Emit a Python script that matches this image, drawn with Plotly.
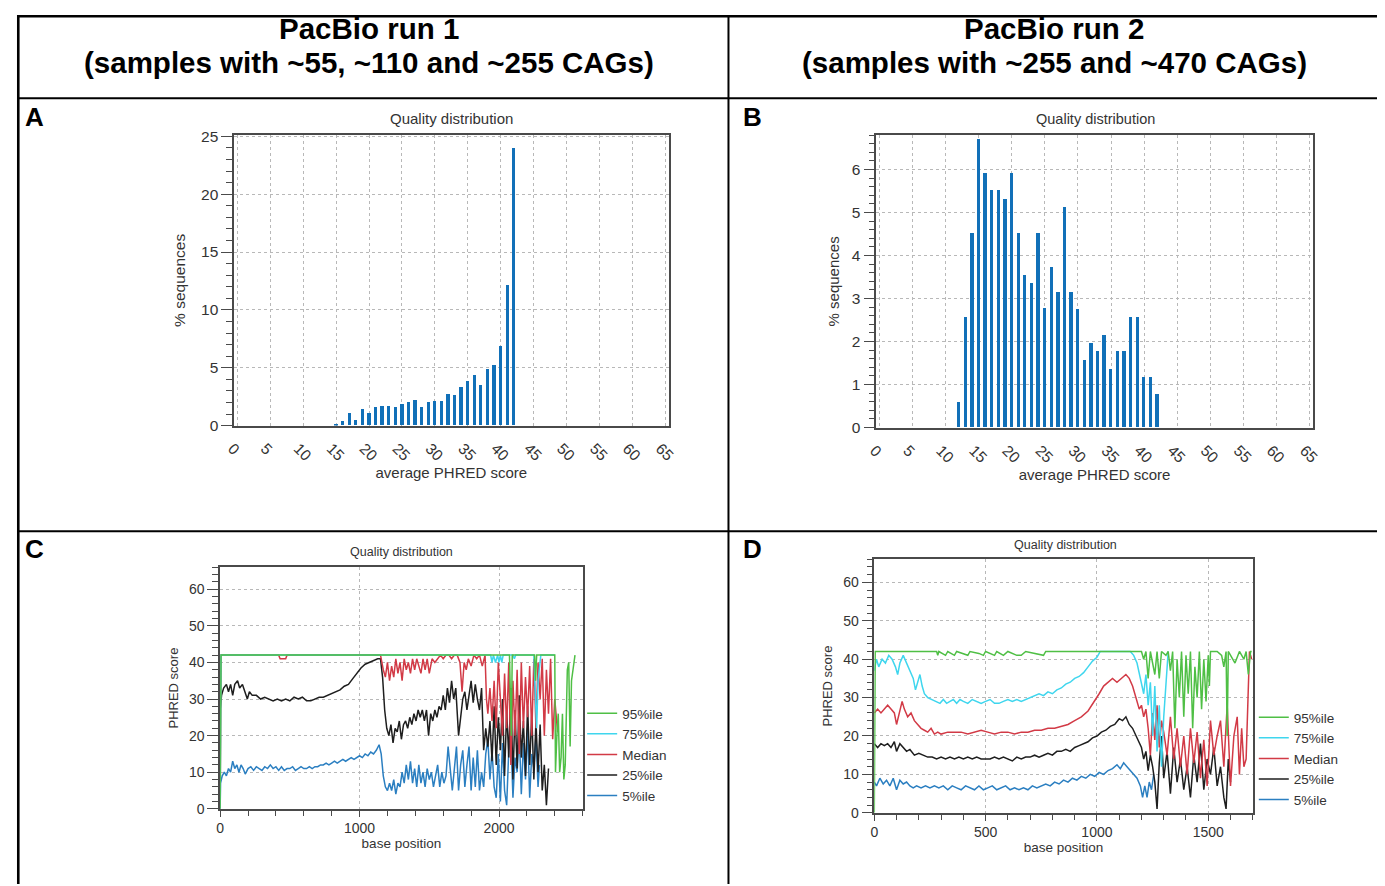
import plotly.graph_objects as go

# The page is photographed slightly scaled and offset (body margin etc.), so
# reference pixel positions are mapped to figure pixels with a linear model.
SX, CX = 0.989, 15.6
SY, CY = 0.985, 13.6
W, H = 1384, 884


def px(x):
    return ((x - CX) / SX) / W


def py(y):
    return 1 - ((y - CY) / SY) / H


# ---------------- data ----------------
# Panel A: PacBio run 1, per-sequence average quality histogram
a_scores = [15, 16, 17, 18, 19, 20, 21, 22, 23, 24, 25, 26, 27, 28, 29, 30,
            31, 32, 33, 34, 35, 36, 37, 38, 39, 40, 41, 42]
a_pct = [0.15, 0.37, 1.06, 0.49, 1.4, 1.06, 1.57, 1.69, 1.69, 1.57, 1.86, 2.0,
         2.17, 1.63, 2.0, 2.09, 2.09, 2.71, 2.63, 3.29, 3.8, 4.37, 3.51, 4.89,
         5.2, 6.86, 12.14, 23.97]

# Panel B: PacBio run 2
b_scores = [12, 13, 14, 15, 16, 17, 18, 19, 20, 21, 22, 23, 24, 25, 26, 27,
            28, 29, 30, 31, 32, 33, 34, 35, 36, 37, 38, 39, 40, 41, 42]
b_pct = [0.58, 2.56, 4.53, 6.70, 5.91, 5.52, 5.52, 5.32, 5.91, 4.53, 3.54,
         3.35, 4.53, 2.77, 3.74, 3.15, 5.12, 3.15, 2.76, 1.57, 1.97, 1.77,
         2.16, 1.37, 1.77, 1.77, 2.56, 2.56, 1.18, 1.18, 0.78]

score_ticks = [0, 5, 10, 15, 20, 25, 30, 35, 40, 45, 50, 55, 60, 65]

# Panel C: per-base quality percentiles, run 1 (base position, PHRED)
c_p95 = [(0, 0), (6, 42), (2075, 42), (2080, 30), (2088, 20), (2095, 42),
         (2255, 42), (2262, 35), (2270, 42), (2400, 42), (2405, 10), (2415, 20),
         (2425, 26), (2435, 10), (2445, 14), (2455, 26), (2465, 8), (2475, 12),
         (2490, 38), (2500, 40), (2510, 17), (2520, 35), (2530, 38), (2545, 42)]
c_p75 = [(0, 0), (6, 42), (1940, 42), (1950, 40), (1960, 42), (1975, 40),
         (1990, 42), (2000, 40), (2010, 42), (2020, 40), (2030, 42), (2100, 42),
         (2110, 41), (2120, 42), (2250, 42), (2260, 30), (2270, 22), (2280, 35),
         (2300, 42), (2400, 42)]
c_med = [(0, 0), (6, 42), (420, 42), (430, 41), (450, 41), (470, 41), (480, 42),
         (1150, 42), (1170, 38), (1185, 36), (1200, 40), (1215, 35), (1230, 39),
         (1245, 36), (1260, 41), (1275, 37), (1290, 40), (1305, 35), (1320, 41),
         (1335, 38), (1350, 40), (1365, 37), (1380, 41), (1395, 38), (1410, 41),
         (1425, 39), (1440, 37), (1455, 41), (1470, 38), (1485, 41), (1500, 37),
         (1520, 41), (1540, 40), (1560, 41), (1580, 42), (1600, 41), (1620, 42),
         (1640, 42), (1660, 41), (1680, 42), (1700, 42), (1720, 40), (1735, 32),
         (1750, 40), (1765, 38), (1780, 41), (1800, 39), (1820, 42), (1840, 41),
         (1860, 42), (1880, 39), (1900, 42), (1910, 30), (1920, 26), (1935, 33),
         (1950, 24), (1965, 35), (1980, 22), (1995, 40), (2010, 30), (2025, 20),
         (2040, 37), (2055, 22), (2070, 40), (2085, 12), (2100, 35), (2115, 20),
         (2130, 38), (2145, 15), (2160, 40), (2175, 22), (2190, 36), (2205, 25),
         (2220, 39), (2235, 20), (2250, 41), (2265, 22), (2280, 40), (2295, 30),
         (2310, 41), (2325, 20), (2340, 38), (2355, 26), (2370, 41), (2385, 19),
         (2400, 30), (2410, 25), (2420, 21)]
c_p25 = [(0, 27), (10, 31), (25, 33), (45, 34), (60, 32), (75, 34), (90, 31),
         (105, 34), (125, 35), (140, 33), (160, 34), (180, 32), (195, 30),
         (210, 32), (230, 31), (260, 31), (290, 30), (320, 30.5), (350, 30),
         (380, 29.5), (410, 30), (440, 29.5), (470, 30), (500, 29.5), (530, 30.5),
         (560, 30), (590, 30.5), (620, 29.5), (650, 29.5), (680, 30), (710, 30.5),
         (740, 30.5), (770, 31), (800, 31.5), (830, 32), (860, 32.5), (890, 33.5),
         (920, 34), (950, 35.5), (980, 37), (1010, 38.5), (1040, 39.5), (1070, 40),
         (1100, 40.5), (1130, 41), (1150, 41), (1165, 36), (1180, 27), (1195, 22),
         (1210, 20), (1225, 23), (1240, 18), (1255, 22), (1270, 21), (1285, 24),
         (1300, 19), (1315, 23), (1330, 24), (1345, 22), (1360, 25), (1375, 23),
         (1390, 26), (1405, 24), (1420, 27), (1435, 25), (1450, 27), (1465, 24),
         (1480, 27), (1495, 20), (1510, 26), (1525, 24), (1540, 27), (1555, 25),
         (1570, 28), (1585, 27), (1600, 31), (1615, 27), (1630, 33), (1645, 29),
         (1660, 35), (1675, 30), (1690, 33), (1700, 27), (1710, 20), (1725, 25),
         (1740, 30), (1755, 32), (1770, 27), (1785, 31), (1800, 35), (1815, 29),
         (1830, 34), (1845, 30), (1860, 27), (1875, 33), (1890, 16), (1905, 22),
         (1920, 17), (1935, 24), (1950, 13), (1965, 28), (1980, 12), (1995, 25),
         (2010, 16), (2025, 30), (2040, 9), (2055, 27), (2070, 14), (2085, 33),
         (2100, 8), (2115, 27), (2130, 11), (2145, 31), (2160, 14), (2175, 24),
         (2190, 9), (2205, 28), (2220, 12), (2235, 26), (2250, 8), (2265, 24),
         (2280, 10), (2295, 23), (2310, 5), (2325, 12), (2340, 1), (2355, 11)]
c_p05 = [(0, 0), (3, 7), (15, 9), (30, 10), (45, 9), (60, 11), (75, 10), (90, 13),
         (105, 11), (120, 12), (135, 10), (150, 12), (165, 11), (180, 9.5),
         (200, 11), (220, 11.5), (240, 10.5), (260, 11.5), (280, 11), (300, 10.5),
         (320, 11.5), (340, 11), (360, 12), (380, 11), (400, 11.5), (420, 10.5),
         (440, 11.5), (460, 10.5), (480, 11), (500, 11), (520, 11.5), (540, 10.5),
         (560, 11), (580, 11.5), (600, 11), (620, 11), (640, 11.5), (660, 11),
         (680, 11.5), (700, 11.5), (720, 12), (740, 12), (760, 12.5), (780, 12),
         (800, 12.5), (820, 13), (840, 12.5), (860, 13), (880, 13.5), (900, 13),
         (920, 13.5), (940, 14), (960, 13.5), (980, 14), (1000, 14.5), (1020, 14),
         (1040, 15), (1060, 14.5), (1080, 15.5), (1100, 15), (1120, 16),
         (1140, 17.5), (1155, 15), (1170, 9), (1185, 6), (1200, 5), (1215, 7),
         (1230, 5), (1245, 8), (1260, 4), (1275, 7), (1290, 6), (1305, 10),
         (1320, 7), (1335, 12), (1350, 8), (1365, 13), (1380, 7), (1395, 11),
         (1410, 6), (1425, 12), (1440, 7), (1455, 10), (1470, 6), (1485, 11),
         (1500, 8), (1515, 10), (1530, 6), (1545, 9), (1560, 12), (1575, 6),
         (1590, 10), (1605, 7), (1620, 9), (1635, 17), (1650, 10), (1665, 5),
         (1680, 11), (1695, 17), (1710, 5), (1725, 12), (1740, 16), (1755, 6),
         (1770, 12), (1785, 17), (1800, 5), (1815, 14), (1830, 6), (1845, 16),
         (1860, 5), (1875, 10), (1890, 6), (1905, 15), (1920, 19), (1935, 8),
         (1950, 16), (1965, 6), (1980, 3), (1995, 15), (2010, 2), (2025, 18),
         (2040, 5), (2055, 1), (2070, 16), (2085, 20), (2100, 3), (2115, 14),
         (2130, 10), (2145, 21), (2160, 4), (2175, 18), (2190, 8), (2205, 22),
         (2220, 3), (2235, 15), (2250, 11), (2265, 20), (2280, 6), (2290, 12)]

# Panel D: per-base quality percentiles, run 2
d_p95 = [(0, 0), (4, 42), (280, 42), (285, 41), (290, 42), (320, 41), (330, 42),
         (360, 41), (370, 42), (400, 41.5), (420, 41), (430, 42), (470, 41.5),
         (490, 41), (500, 42), (540, 41), (550, 42), (580, 41), (600, 42),
         (640, 41), (660, 41), (680, 42), (760, 41), (770, 42), (1200, 42),
         (1210, 40), (1220, 42), (1230, 35), (1240, 42), (1250, 39), (1260, 36),
         (1270, 42), (1280, 35), (1290, 42), (1310, 41), (1320, 42), (1330, 37),
         (1340, 42), (1350, 22), (1360, 40), (1370, 30), (1380, 42), (1390, 25),
         (1400, 41), (1410, 31), (1420, 42), (1430, 22), (1440, 38), (1450, 30),
         (1460, 42), (1470, 27), (1480, 40), (1490, 29), (1500, 41), (1505, 33),
         (1510, 42), (1540, 42), (1560, 41), (1570, 38), (1580, 42), (1585, 20),
         (1590, 42), (1620, 39), (1640, 42), (1660, 40), (1670, 42), (1680, 36),
         (1690, 42), (1695, 42)]
d_p75 = [(0, 37), (10, 40), (20, 38), (35, 40), (50, 39), (65, 41), (80, 40),
         (95, 38), (105, 36), (115, 39), (130, 41), (145, 39), (160, 37),
         (175, 35), (185, 32), (195, 34), (205, 36), (215, 33), (225, 31),
         (240, 30), (260, 29.5), (280, 29), (295, 28.5), (310, 29.5), (325, 28.5),
         (340, 29), (355, 29.5), (370, 28.5), (385, 29.5), (400, 29), (420, 28.5),
         (440, 29.5), (460, 29), (480, 28.5), (500, 29), (520, 29.5), (540, 28.5),
         (560, 28.5), (580, 29), (600, 29.5), (620, 29), (640, 29.5), (660, 29),
         (680, 29.5), (700, 30), (720, 30.5), (740, 31), (760, 30.5), (780, 31.5),
         (800, 31), (820, 32), (840, 32.5), (860, 33.5), (880, 34), (900, 35),
         (920, 35.5), (940, 36.5), (960, 38), (980, 39.5), (1000, 40.5),
         (1015, 42), (1150, 42), (1165, 41), (1180, 39), (1195, 35), (1210, 31),
         (1220, 36), (1230, 28), (1240, 34), (1250, 20), (1260, 33), (1270, 16),
         (1280, 28), (1290, 12), (1300, 25), (1310, 35), (1320, 42)]
d_med = [(0, 26), (15, 27), (30, 26), (45, 27), (60, 28), (75, 27), (90, 26),
         (100, 23), (115, 27), (125, 29), (135, 27), (150, 25), (165, 26),
         (180, 24), (195, 23), (210, 22), (225, 21.5), (240, 21), (255, 22),
         (270, 20.5), (285, 21), (300, 20.5), (330, 21), (360, 21), (390, 21),
         (420, 20.5), (450, 21), (480, 21.5), (510, 21), (540, 20.5), (570, 21),
         (600, 21), (630, 20.5), (660, 21), (690, 21), (720, 21.5), (750, 21.5),
         (780, 22), (810, 22), (840, 22.5), (870, 23), (900, 24), (930, 25),
         (960, 26.5), (990, 29), (1010, 31), (1030, 33), (1050, 34), (1070, 35),
         (1090, 34), (1110, 35), (1130, 36), (1145, 35), (1160, 33), (1175, 30),
         (1190, 27), (1200, 28), (1210, 25), (1220, 27), (1230, 22), (1240, 15),
         (1250, 26), (1260, 19), (1270, 28), (1280, 17), (1290, 24), (1300, 21),
         (1315, 15), (1330, 25), (1345, 14), (1360, 22), (1375, 12), (1390, 20),
         (1405, 10), (1420, 22), (1435, 13), (1450, 21), (1465, 9), (1480, 19),
         (1495, 7), (1510, 24), (1525, 15), (1540, 20), (1555, 24), (1570, 12),
         (1585, 28), (1600, 7), (1615, 20), (1630, 25), (1640, 10), (1650, 22),
         (1660, 12), (1670, 14), (1685, 42), (1695, 40)]
d_p25 = [(0, 18), (15, 17), (30, 18), (45, 17.5), (60, 18), (75, 17), (90, 18.5),
         (100, 16), (115, 18), (130, 17), (145, 16), (160, 16.5), (180, 15),
         (200, 15.5), (220, 15), (240, 14.5), (260, 14.5), (280, 14), (300, 14.5),
         (320, 14), (340, 14.5), (360, 14), (380, 14.5), (400, 14), (420, 14.5),
         (440, 14), (460, 14.5), (480, 14), (500, 14), (520, 14), (540, 14.5),
         (560, 14), (580, 14.5), (600, 14), (620, 13.5), (640, 14.5), (660, 14),
         (680, 14.5), (700, 14.5), (720, 15), (740, 14.5), (760, 15), (780, 15.5),
         (800, 15), (820, 16), (840, 16), (860, 16.5), (880, 16), (900, 17),
         (920, 17.5), (940, 18), (960, 18.5), (980, 19.5), (1000, 20), (1020, 21),
         (1040, 21.5), (1060, 22.5), (1080, 23), (1100, 24.5), (1115, 24),
         (1130, 25), (1145, 23), (1160, 22), (1175, 20), (1190, 18), (1200, 17),
         (1210, 14), (1220, 16), (1230, 11), (1240, 15), (1250, 12), (1260, 8),
         (1270, 1), (1280, 13), (1290, 20), (1300, 9), (1315, 16), (1330, 5),
         (1345, 17), (1360, 8), (1375, 14), (1390, 6), (1405, 12), (1420, 4),
         (1435, 15), (1450, 8), (1465, 18), (1480, 6), (1495, 14), (1510, 10),
         (1525, 17), (1540, 7), (1555, 12), (1570, 4), (1580, 1), (1590, 14),
         (1600, 8)]
d_p05 = [(0, 8), (10, 7), (25, 9), (40, 7.5), (55, 8.5), (70, 7), (85, 9),
         (100, 6), (115, 8.5), (130, 7.5), (145, 8), (160, 7), (175, 6.5),
         (190, 7), (210, 6.5), (230, 7), (250, 6.5), (270, 7), (290, 6.5),
         (310, 7), (330, 6), (350, 7), (370, 6.5), (390, 6), (410, 7), (430, 6.5),
         (450, 6), (470, 7), (490, 6), (510, 6.5), (530, 7), (550, 6), (570, 6.5),
         (590, 7), (610, 6), (630, 6.5), (650, 6), (670, 6.5), (690, 6), (710, 7),
         (730, 6.5), (750, 7), (770, 7.5), (790, 7), (810, 8), (830, 7.5),
         (850, 8.5), (870, 8), (890, 9), (910, 8.5), (930, 9.5), (950, 9),
         (970, 10), (990, 9.5), (1010, 10.5), (1030, 10), (1050, 11), (1070, 11.5),
         (1090, 12.5), (1105, 11.5), (1120, 13), (1135, 12), (1150, 11),
         (1165, 10), (1180, 9), (1195, 7), (1205, 4), (1215, 7), (1225, 4),
         (1235, 8), (1245, 6), (1255, 10)]

series_names = ["5%ile", "25%ile", "Median", "75%ile", "95%ile"]
series_colors = ["#2b7fc1", "#1e1e1e", "#d23a46", "#3fd6ee", "#4fbf45"]

# ---------------- figure ----------------
TXT = "#333333"
FONT = "Liberation Sans, Arial, sans-serif"
BAR = "#1170b8"
GRID = "#b8b8b8"
FRAME = "#4a4a4a"

fig = go.Figure()

fig.add_trace(go.Bar(x=a_scores, y=a_pct, width=0.5, marker=dict(color=BAR, line=dict(width=0)),
                     xaxis="x", yaxis="y", showlegend=False))
fig.add_trace(go.Bar(x=b_scores, y=b_pct, width=0.5, marker=dict(color=BAR, line=dict(width=0)),
                     xaxis="x2", yaxis="y2", showlegend=False))

for data_sets, xa, ya, lg in [((c_p05, c_p25, c_med, c_p75, c_p95), "x3", "y3", "legend"),
                              ((d_p05, d_p25, d_med, d_p75, d_p95), "x4", "y4", "legend2")]:
    for pts, name, col in zip(data_sets, series_names, series_colors):
        xs = [p[0] for p in pts]
        ys = [p[1] for p in pts]
        fig.add_trace(go.Scatter(x=xs, y=ys, mode="lines", name=name,
                                 line=dict(color=col, width=1.5),
                                 xaxis=xa, yaxis=ya, legend=lg))


def frame_axis(tick_size, **kw):
    base = dict(showline=True, mirror=True, linecolor=FRAME, linewidth=1.5,
                showgrid=True, gridcolor=GRID, griddash="dot", gridwidth=1,
                zeroline=False, tickfont=dict(size=tick_size, color=TXT, family=FONT),
                tickcolor=FRAME, fixedrange=True)
    base.update(kw)
    return base


def axis_title(s, standoff, size):
    return dict(text=s, standoff=standoff, font=dict(size=size, color=TXT, family=FONT))


def score_x(**kw):
    d = dict(range=[-0.5, 65.5], tickmode="array", tickvals=score_ticks, tickangle=45,
             ticks="", ticklabelstandoff=6, ticklabelshift=-5,
             title=axis_title("average PHRED score", 0, 15))
    d.update(kw)
    return d


fig.update_layout(
    width=W, height=H, margin=dict(l=0, r=0, t=0, b=0),
    paper_bgcolor="white", plot_bgcolor="white",
    font=dict(family=FONT, color=TXT),
    bargap=0,
    xaxis=frame_axis(15.5, domain=[px(233), px(668)], anchor="y", **score_x()),
    yaxis=frame_axis(15.5, domain=[py(425), py(134)], anchor="x", range=[0, 25.1], dtick=5,
                     ticks="outside", ticklen=11,
                     minor=dict(dtick=1, ticks="outside", ticklen=6, tickcolor=FRAME, showgrid=False),
                     title=axis_title("% sequences", 12, 15.5)),
    xaxis2=frame_axis(15.5, domain=[px(876), px(1313)], anchor="y2", **score_x()),
    yaxis2=frame_axis(15.5, domain=[py(427), py(134)], anchor="x2", range=[0, 6.8], dtick=1,
                      ticks="outside", ticklen=11,
                      minor=dict(dtick=0.2, ticks="outside", ticklen=6, tickcolor=FRAME, showgrid=False),
                      title=axis_title("% sequences", 9, 15)),
    xaxis3=frame_axis(14, domain=[px(219), px(582)], anchor="y3", range=[0, 2600], dtick=1000,
                      ticks="outside", ticklen=6,
                      minor=dict(dtick=200, ticks="outside", ticklen=5, tickcolor=FRAME, showgrid=False),
                      title=axis_title("base position", 0, 13.5)),
    yaxis3=frame_axis(14, domain=[py(809), py(567)], anchor="x3", range=[0, 66], dtick=10,
                      ticks="outside", ticklen=11,
                      minor=dict(dtick=2, ticks="outside", ticklen=6, tickcolor=FRAME, showgrid=False),
                      title=axis_title("PHRED score", 7, 13)),
    xaxis4=frame_axis(14, domain=[px(874), px(1253)], anchor="y4", range=[0, 1700], dtick=500,
                      ticks="outside", ticklen=6,
                      minor=dict(dtick=100, ticks="outside", ticklen=5, tickcolor=FRAME, showgrid=False),
                      title=axis_title("base position", 0, 13.5)),
    yaxis4=frame_axis(14, domain=[py(813), py(559)], anchor="x4", range=[0, 66], dtick=10,
                      ticks="outside", ticklen=11,
                      minor=dict(dtick=2, ticks="outside", ticklen=6, tickcolor=FRAME, showgrid=False),
                      title=axis_title("PHRED score", 8, 13)),
    legend=dict(x=px(581.5), y=py(698), xanchor="left", yanchor="top", traceorder="reversed",
                itemwidth=30, tracegroupgap=0, bgcolor="rgba(0,0,0,0)",
                font=dict(size=13.5, color=TXT, family=FONT)),
    legend2=dict(x=px(1254), y=py(702), xanchor="left", yanchor="top", traceorder="reversed",
                 itemwidth=30, tracegroupgap=0, bgcolor="rgba(0,0,0,0)",
                 font=dict(size=13.5, color=TXT, family=FONT)),
)

# ---------------- table frame ----------------
shapes = []


def hline(y0p, x0p, x1p, w):
    shapes.append(dict(type="line", xref="paper", yref="paper", x0=x0p, x1=x1p,
                       y0=y0p, y1=y0p, line=dict(color="black", width=w)))


def vline(x0p, y0p, y1p, w):
    shapes.append(dict(type="line", xref="paper", yref="paper", x0=x0p, x1=x0p,
                       y0=y0p, y1=y1p, line=dict(color="black", width=w)))


LEFT, RIGHT, TOP, BOTTOM = 1.3 / W, 1 - 1.3 / W, 1 - 1.3 / H, 0
hline(TOP, 0, 1, 2.6)
hline(py(97), 0, 1, 2)
hline(py(531), 0, 1, 2)
vline(LEFT, BOTTOM, 1, 2.6)
vline(RIGHT, BOTTOM, 1, 2.6)
vline(px(728), BOTTOM, 1, 2)
fig.update_layout(shapes=shapes)

# ---------------- text: headers, panel letters, chart titles ----------------
annots = []


def text(x, y, s, size, bold=False, color="black"):
    annots.append(dict(x=px(x), y=py(y), xref="paper", yref="paper", text=s, showarrow=False,
                       xanchor="center", yanchor="middle",
                       font=dict(size=size, color=color, family=FONT,
                                 weight="bold" if bold else "normal")))


text(368, 27, "PacBio run 1", 29.5, bold=True)
text(368, 61, "(samples with ~55, ~110 and ~255 CAGs)", 29.5, bold=True)
text(1054, 27, "PacBio run 2", 29.5, bold=True)
text(1054, 61, "(samples with ~255 and ~470 CAGs)", 29.5, bold=True)
text(33, 116, "A", 26, bold=True)
text(752, 116, "B", 26, bold=True)
text(33, 549, "C", 26, bold=True)
text(752, 549, "D", 26, bold=True)
text(451, 117, "Quality distribution", 15, color=TXT)
text(1096, 118, "Quality distribution", 14.5, color=TXT)
text(401, 552, "Quality distribution", 12.5, color=TXT)
text(1065, 545, "Quality distribution", 12.5, color=TXT)
fig.update_layout(annotations=annots)

fig.write_html("out.html")
